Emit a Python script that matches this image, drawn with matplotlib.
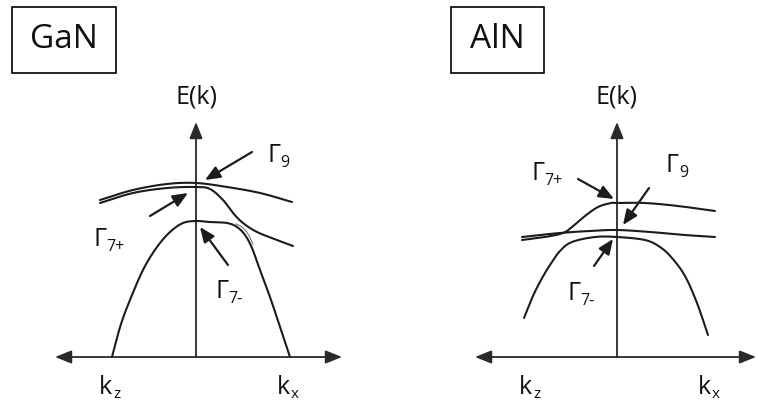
import numpy as np
import matplotlib
matplotlib.use("Agg")
import matplotlib.pyplot as plt
from matplotlib.patches import FancyArrowPatch, Rectangle

FONT = ["Open Sans", "DejaVu Sans"]
plt.rcParams["font.family"] = FONT

# ---- band data (k, E) relative to the Gamma point, arbitrary units ----
panels = ["GaN", "AlN"]

# GaN
gan_g9_k = [-96, -63, -29, 0, 31, 64, 96]
gan_g9_e = [157, 167, 173, 174, 170, 164, 155]
gan_g7p_k = [-96, -63, -29, 0, 14, 27, 37, 47, 61, 81, 97]
gan_g7p_e = [154, 164, 169, 170, 168, 157, 144, 134, 125, 117, 111]
gan_g7m_k = [-84, -75, -64, -52, -39, -26, -13, 0, 14, 31, 41, 49, 56, 64, 74, 84, 94]
gan_g7m_e = [0, 33, 62, 89, 110, 125, 134, 136, 135, 134, 130, 122, 109, 87, 60, 30, 0]
gan_edge_k = [40, 46, 52, 57]
gan_edge_e = [133, 130, 123, 113]

# AlN
aln_g7p_k = [-95, -72, -54, -45, -32, -19, -6, 0, 28, 61, 98]
aln_g7p_e = [117, 120, 124, 130, 141, 150, 154, 154, 154, 151, 146]
aln_g9_k = [-95, -57, -27, 0, 33, 68, 98]
aln_g9_e = [120, 124, 126, 127, 125, 122, 120]
aln_g7m_k = [-93, -85, -76, -67, -57, -45, -22, 0, 28, 43, 55, 68, 80, 91]
aln_g7m_e = [39, 59, 77, 92, 106, 115, 120, 120, 117, 110, 99, 81, 54, 22]

# labels: (main, subscript, k, E) ; pointer arrows: (k_tail, E_tail, k_head, E_head)
gan_labels = [("Γ", "9", 71, 202), ("Γ", "7+", -103, 118), ("Γ", "7-", 19, 66)]
gan_pointers = [(56, 205, 9, 177), (-46, 141, -8, 164), (32, 92, 4, 130)]
aln_labels = [("Γ", "7+", -86, 184), ("Γ", "9", 49, 192), ("Γ", "7-", -50, 64)]
aln_pointers = [(-39, 178, -3, 158), (32, 169, 6, 132), (-23, 91, -4, 118)]

# axis extents: (k_left, k_right, E_top)
gan_axis = (-141, 146, 235)
aln_axis = (-142, 139, 235)
gan_box = (-184, -80, 284, 350)
aln_box = (-166, -73, 284, 350)
gan_kz, gan_kx = -97, 81
aln_kz, aln_kx = -98, 81


def smooth(k, e, n=16):
    """Catmull-Rom spline through the given points."""
    p = np.column_stack([k, e]).astype(float)
    p = np.vstack([2 * p[0] - p[1], p, 2 * p[-1] - p[-2]])
    out = []
    t = np.linspace(0, 1, n, endpoint=False)[:, None]
    for i in range(1, len(p) - 2):
        p0, p1, p2, p3 = p[i - 1], p[i], p[i + 1], p[i + 2]
        seg = 0.5 * ((2 * p1) + (-p0 + p2) * t + (2 * p0 - 5 * p1 + 4 * p2 - p3) * t ** 2
                     + (-p0 + 3 * p1 - 3 * p2 + p3) * t ** 3)
        out.append(seg)
    out.append(p[-2][None, :])
    out = np.vstack(out)
    return out[:, 0], out[:, 1]


W, H = 758, 409
fig = plt.figure(figsize=(W / 100, H / 100), dpi=100)
fig.patch.set_facecolor("white")

LINE = "#1c1c1c"
AX = "#2a2a2a"


def arrow(ax, x0, y0, x1, y1, lw, hl, hw, color):
    a = FancyArrowPatch((x0, y0), (x1, y1),
                        arrowstyle=f"-|>,head_length={hl},head_width={hw}",
                        mutation_scale=10, lw=lw, color=color,
                        shrinkA=0, shrinkB=0, clip_on=False)
    ax.add_patch(a)


def panel(left_px, origin_px, name, curves, edge, labels, pointers, axis, box, kz, kx):
    ax = fig.add_axes([left_px / W, 0, (W / 2) / W, 1])
    ax.set_xlim(left_px - origin_px, left_px + W / 2 - origin_px)
    ax.set_ylim(357 - H, 357)
    ax.axis("off")

    # axes of the E(k) diagram
    kl, kr, etop = axis
    arrow(ax, 0, 0, kl, 0, 1.3, 1.0, 0.4, AX)
    arrow(ax, 0, 0, kr, 0, 1.3, 1.0, 0.4, AX)
    arrow(ax, 0, 0, 0, etop, 1.3, 1.0, 0.4, AX)
    ax.text(0, 260, "E(k)", ha="center", va="center", fontsize=18, color="#111")
    for kpos, sub in ((kz, "z"), (kx, "x")):
        ax.text(kpos, -30, "k", ha="left", va="center", fontsize=18, color="#111")
        ax.text(kpos + 14, -38, sub, ha="left", va="center", fontsize=11, color="#111")

    for k, e in curves:
        xs, ys = smooth(k, e)
        ax.plot(xs, ys, color=LINE, lw=1.5, solid_capstyle="round", clip_on=False)
    if edge is not None:
        xs, ys = smooth(*edge)
        ax.plot(xs, ys, color="#777", lw=0.8, clip_on=False)

    for main, sub, k, e in labels:
        ax.text(k, e, main, ha="left", va="center", fontsize=18, color="#111")
        ax.text(k + 13, e - 8, sub, ha="left", va="center", fontsize=11.5, color="#111")
    for x0, y0, x1, y1 in pointers:
        arrow(ax, x0, y0, x1, y1, 1.6, 0.9, 0.38, LINE)

    bx0, bx1, by0, by1 = box
    ax.add_patch(Rectangle((bx0, by0), bx1 - bx0, by1 - by0, fill=False,
                           lw=1.2, ec="black", clip_on=False))
    ax.text((bx0 + bx1) / 2, (by0 + by1) / 2 + 1, name, ha="center", va="center",
            fontsize=24, color="#111")


panel(0, 196, panels[0],
      [(gan_g9_k, gan_g9_e), (gan_g7p_k, gan_g7p_e), (gan_g7m_k, gan_g7m_e)],
      (gan_edge_k, gan_edge_e), gan_labels, gan_pointers, gan_axis, gan_box, gan_kz, gan_kx)
panel(W / 2, 617, panels[1],
      [(aln_g7p_k, aln_g7p_e), (aln_g9_k, aln_g9_e), (aln_g7m_k, aln_g7m_e)],
      None, aln_labels, aln_pointers, aln_axis, aln_box, aln_kz, aln_kx)

fig.savefig("out.png", dpi=100, facecolor="white")
